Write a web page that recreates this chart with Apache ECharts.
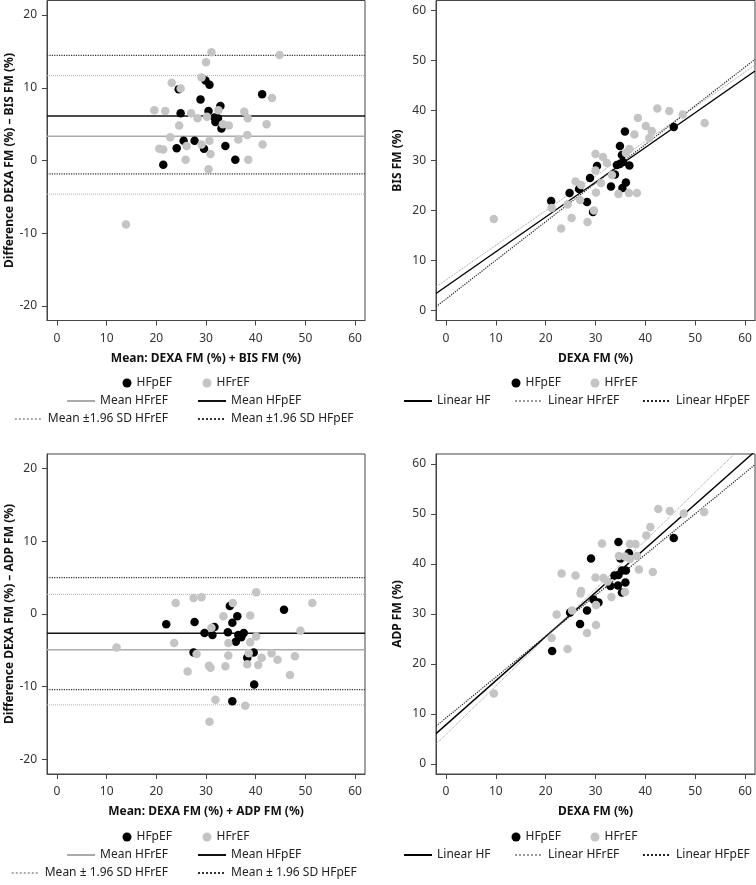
<!DOCTYPE html>
<html lang="en">
<head>
<meta charset="UTF-8">
<title>DEXA vs BIS / ADP fat mass</title>
<script src="https://cdn.jsdelivr.net/npm/echarts@6/dist/echarts.min.js"></script>
<style>html,body{margin:0;padding:0;background:#fff;}</style>
</head>
<body>
<div id="chart" style="width:756px;height:885px;"></div>
<script type="text/javascript">
// axis ticks
var xTicks = [0, 10, 20, 30, 40, 50, 60];
var diffTicks = [-20, -10, 0, 10, 20];
var fmTicks = [0, 10, 20, 30, 40, 50, 60];

// Bland-Altman DEXA vs BIS: [mean, difference]
var baBisPEF = [[29.9,11.0],[30.7,10.4],[24.5,9.8],[41.3,9.1],[28.9,8.4],[32.9,7.5],[24.9,6.5],[30.5,6.8],[31.7,5.9],[32.4,5.8],[31.9,5.3],[33.1,4.4],[25.5,2.7],[27.7,2.7],[24.1,1.7],[29.6,1.6],[33.9,2.0],[35.9,0.1],[21.4,-0.6]];
var baBisREF = [[31.1,14.9],[44.8,14.5],[30.0,13.5],[29.1,11.4],[23.1,10.7],[24.9,9.9],[43.3,8.6],[19.6,6.9],[21.8,6.8],[27.0,6.5],[32.5,6.9],[37.7,6.7],[28.3,5.8],[30.2,6.0],[38.4,5.8],[33.4,5.0],[34.6,4.8],[42.2,5.0],[24.6,4.8],[22.8,3.2],[38.3,3.5],[36.5,2.9],[26.1,2.0],[29.1,2.2],[30.7,2.7],[41.4,2.2],[20.6,1.6],[21.4,1.5],[30.9,0.9],[25.9,0.1],[38.5,0.1],[30.5,-1.2],[13.9,-8.8]];
var baBisMeanPEF = 6.13, baBisLoaPEF = [14.46, -1.83];
var baBisMeanREF = 3.34, baBisLoaREF = [11.67, -4.62];

// DEXA FM vs BIS FM
var scBisPEF = [[45.7,36.7],[35.9,35.8],[34.9,32.9],[35.3,31.1],[30.3,28.9],[34.3,29.1],[34.9,29.3],[36.8,29.0],[33.9,27.2],[28.9,26.5],[33.1,24.8],[36.1,25.6],[35.4,24.5],[24.8,23.5],[26.7,24.3],[21.1,21.9],[28.3,21.7],[29.5,19.7],[35.5,29.7]];
var scBisREF = [[42.4,40.4],[44.8,39.9],[47.5,39.2],[38.5,38.5],[40.1,36.9],[41.3,35.9],[37.8,35.2],[40.8,34.5],[51.9,37.5],[36.8,32.3],[36.1,31.5],[30.0,31.3],[31.5,30.7],[32.3,29.5],[30.0,28.0],[33.3,27.1],[31.1,25.5],[26.0,25.8],[27.1,25.1],[30.1,23.6],[34.6,23.3],[36.7,23.5],[38.3,23.5],[26.9,22.1],[24.4,21.2],[21.2,20.5],[29.7,20.0],[25.2,18.5],[28.4,17.7],[23.1,16.4],[9.6,18.3]];
// [slope, intercept]
var fitBisHF = [0.695, 4.8], fitBisREF = [0.693, 6.1], fitBisPEF = [0.773, 2.3];

// Bland-Altman DEXA vs ADP
var baAdpPEF = [[45.7,0.6],[34.8,1.1],[36.3,-0.3],[22.0,-1.4],[27.7,-1.1],[31.7,-1.8],[35.3,-1.2],[29.7,-2.6],[31.3,-2.9],[34.4,-2.5],[37.6,-2.6],[36.5,-2.9],[37.1,-3.2],[36.0,-3.8],[27.5,-5.3],[39.6,-5.3],[38.3,-6.0],[39.7,-9.7],[35.3,-12.0]];
var baAdpREF = [[40.1,3.0],[51.4,1.5],[23.9,1.5],[27.5,2.2],[29.1,2.3],[35.4,1.5],[33.5,-0.3],[38.9,-0.2],[31.1,-1.9],[49.0,-2.3],[40.1,-3.1],[23.6,-4.0],[34.5,-4.0],[38.9,-3.9],[12.0,-4.6],[28.1,-5.5],[34.5,-5.7],[38.6,-5.4],[43.2,-5.4],[47.9,-5.8],[41.2,-6.0],[44.4,-6.3],[26.3,-7.9],[30.6,-7.1],[30.9,-7.4],[33.9,-7.2],[38.3,-6.9],[40.5,-7.0],[46.9,-8.4],[31.9,-11.8],[37.9,-12.6],[30.7,-14.8]];
var baAdpMeanPEF = -2.65, baAdpLoaPEF = [5.0, -10.4];
var baAdpMeanREF = -4.9, baAdpLoaREF = [2.7, -12.5];

// DEXA FM vs ADP FM
var scAdpPEF = [[45.7,45.2],[34.6,44.4],[29.1,41.1],[36.7,42.2],[35.0,41.1],[36.1,38.7],[35.3,38.7],[33.8,37.7],[34.6,37.8],[33.0,35.6],[34.5,35.7],[36.0,36.3],[35.3,34.3],[29.6,32.9],[30.6,32.3],[24.9,30.3],[28.3,30.7],[26.9,28.0],[21.3,22.6]];
var scAdpREF = [[42.6,51.0],[44.9,50.6],[47.7,50.1],[51.8,50.4],[41.0,47.4],[40.2,45.7],[36.9,44.0],[38.0,44.0],[31.3,44.1],[34.7,41.6],[35.9,41.5],[36.9,41.0],[38.3,41.6],[23.2,38.1],[26.0,37.7],[30.0,37.3],[31.6,37.2],[32.4,36.5],[38.7,38.9],[41.5,38.4],[27.0,34.1],[27.1,34.6],[33.2,33.4],[35.9,34.4],[30.1,31.8],[22.2,29.9],[25.3,30.7],[28.3,26.2],[30.1,27.8],[21.2,25.2],[24.4,23.0],[9.6,14.1]];
var fitAdpHF = [0.882, 7.84], fitAdpREF = [0.97, 5.9], fitAdpPEF = [0.817, 9.2];

var X_MIN = -2, X_MAX = 62;
var FONT = '"Noto Sans", "Open Sans", sans-serif';

var chart = echarts.init(document.getElementById('chart'), null, {renderer: 'canvas'});

var ctx = document.createElement('canvas').getContext('2d');
ctx.font = '12px "Noto Sans"';
function textW(s) { return ctx.measureText(s).width; }

var BLACK = '#000', GREY = '#c4c4c4';
var styles = {
    meanPEF: {color: '#111', width: 1.5, type: 'solid'},
    meanREF: {color: '#aaa', width: 1.5, type: 'solid'},
    loaPEF: {color: '#333', width: 1.2, type: 'dotted'},
    loaREF: {color: '#aaa', width: 1, type: 'dotted'},
    fitHF: {color: '#000', width: 1.4, type: 'solid'},
    fitREF: {color: '#999', width: 1, type: 'dotted'},
    fitPEF: {color: '#222', width: 1.2, type: 'dotted'}
};

function xAxisFor(i, name) {
    return {
        gridIndex: i, type: 'value', min: X_MIN, max: X_MAX,
        name: name, nameLocation: 'middle', nameGap: 32,
        nameTextStyle: {fontFamily: FONT, fontSize: 12, fontWeight: 'bold', color: '#111'},
        axisLine: {show: true, onZero: false, lineStyle: {color: '#444'}},
        axisTick: {show: true, length: 5, customValues: xTicks, lineStyle: {color: '#444'}},
        axisLabel: {customValues: xTicks, margin: 12, fontFamily: FONT, fontSize: 12, color: '#333'},
        splitLine: {show: false}
    };
}
function yAxisFor(i, name, min, max, ticks, gap) {
    return {
        gridIndex: i, type: 'value', min: min, max: max,
        name: name, nameLocation: 'middle', nameGap: gap, nameRotate: 90,
        nameTextStyle: {fontFamily: FONT, fontSize: 12, fontWeight: 'bold', color: '#111'},
        axisLine: {show: true, onZero: false, lineStyle: {color: '#444'}},
        axisTick: {show: true, length: 5, customValues: ticks, lineStyle: {color: '#444'}},
        axisLabel: {customValues: ticks, margin: 10, fontFamily: FONT, fontSize: 12, color: '#333'},
        splitLine: {show: false}
    };
}
function dots(name, i, data, color, z) {
    return {name: name, type: 'scatter', xAxisIndex: i, yAxisIndex: i, data: data,
        symbol: 'circle', symbolSize: 8.5, itemStyle: {color: color, opacity: 1}, z: z, silent: true};
}
function hLine(name, i, v, st) {
    return {name: name, type: 'line', xAxisIndex: i, yAxisIndex: i,
        data: [[X_MIN, v], [X_MAX, v]], symbol: 'none', lineStyle: st,
        itemStyle: {color: st.color}, z: 2, silent: true};
}
function fitLine(name, i, c, st) {
    return {name: name, type: 'line', xAxisIndex: i, yAxisIndex: i,
        data: [[X_MIN, c[1] + c[0] * X_MIN], [X_MAX, c[1] + c[0] * X_MAX]],
        symbol: 'none', lineStyle: st, itemStyle: {color: st.color}, z: 2, clip: true, silent: true};
}

var legends = [];
function legendAt(name, left, cy, isDot) {
    var lg = {
        data: [name], left: left, top: cy - 8, padding: 0, itemGap: 0,
        itemWidth: isDot ? 9 : 28, itemHeight: isDot ? 9 : 10, selectedMode: false,
        textStyle: {fontFamily: FONT, fontSize: 12, color: '#222', lineHeight: 16}
    };
    // line legends: hide the marker that ECharts adds in the middle of the line
    if (!isDot) lg.itemStyle = {opacity: 0};
    legends.push(lg);
}
// right-align the text of a legend item to x = end
function legendEnd(name, end, cy) {
    legendAt(name, end - textW(name) - 5 - 28, cy, false);
}

var series = [];
var blocks = [
    {dy: 0, i: 0, pef: baBisPEF, ref: baBisREF, mP: baBisMeanPEF, lP: baBisLoaPEF, mR: baBisMeanREF, lR: baBisLoaREF, sd: ['Mean \u00b11.96 SD HFrEF', 'Mean \u00b11.96 SD HFpEF']},
    {dy: 454, i: 2, pef: baAdpPEF, ref: baAdpREF, mP: baAdpMeanPEF, lP: baAdpLoaPEF, mR: baAdpMeanREF, lR: baAdpLoaREF, sd: ['Mean \u00b1 1.96 SD HFrEF', 'Mean \u00b1 1.96 SD HFpEF']}
];
blocks.forEach(function (b) {
    series.push(hLine('Mean HFrEF', b.i, b.mR, styles.meanREF));
    series.push(hLine('Mean HFpEF', b.i, b.mP, styles.meanPEF));
    series.push(hLine(b.sd[0], b.i, b.lR[0], styles.loaREF));
    series.push(hLine(b.sd[0], b.i, b.lR[1], styles.loaREF));
    series.push(hLine(b.sd[1], b.i, b.lP[0], styles.loaPEF));
    series.push(hLine(b.sd[1], b.i, b.lP[1], styles.loaPEF));
    series.push(dots('HFpEF', b.i, b.pef, BLACK, 3));
    series.push(dots('HFrEF', b.i, b.ref, GREY, 4));
    legendAt('HFpEF', 122.5, 383 + b.dy, true);
    legendAt('HFrEF', 202.5, 383 + b.dy, true);
    legendEnd('Mean HFrEF', 167, 401 + b.dy);
    legendAt('Mean HFpEF', 197, 401 + b.dy, false);
    legendEnd(b.sd[0], 167, 419 + b.dy);
    legendAt(b.sd[1], 197, 419 + b.dy, false);
});
var fits = [
    {dy: 0, i: 1, pef: scBisPEF, ref: scBisREF, hf: fitBisHF, fr: fitBisREF, fp: fitBisPEF},
    {dy: 454, i: 3, pef: scAdpPEF, ref: scAdpREF, hf: fitAdpHF, fr: fitAdpREF, fp: fitAdpPEF}
];
fits.forEach(function (b) {
    series.push(fitLine('Linear HF', b.i, b.hf, styles.fitHF));
    series.push(fitLine('Linear HFrEF', b.i, b.fr, styles.fitREF));
    series.push(fitLine('Linear HFpEF', b.i, b.fp, styles.fitPEF));
    series.push(dots('HFpEF', b.i, b.pef, BLACK, 3));
    series.push(dots('HFrEF', b.i, b.ref, GREY, 4));
    legendAt('HFpEF', 511.5, 383 + b.dy, true);
    legendAt('HFrEF', 590.5, 383 + b.dy, true);
    legendAt('Linear HF', 403, 401 + b.dy, false);
    legendAt('Linear HFrEF', 514, 401 + b.dy, false);
    legendAt('Linear HFpEF', 642, 401 + b.dy, false);
});

var gridBase = {show: true, borderColor: '#444', borderWidth: 1, backgroundColor: '#fff', outerBoundsMode: 'none', containLabel: false};
var option = {
    animation: false,
    backgroundColor: '#fff',
    textStyle: {fontFamily: FONT},
    grid: [
        Object.assign({left: 47, top: 0.5, width: 318, height: 320}, gridBase),
        Object.assign({left: 436, top: 0.5, width: 319, height: 320}, gridBase),
        Object.assign({left: 47, top: 454, width: 318, height: 320}, gridBase),
        Object.assign({left: 436, top: 454, width: 319, height: 320}, gridBase)
    ],
    xAxis: [
        xAxisFor(0, 'Mean: DEXA FM (%) + BIS FM (%)'),
        xAxisFor(1, 'DEXA FM (%)'),
        xAxisFor(2, 'Mean: DEXA FM (%) + ADP FM (%)'),
        xAxisFor(3, 'DEXA FM (%)')
    ],
    yAxis: [
        yAxisFor(0, 'Difference DEXA FM (%) \u2013 BIS FM (%)', -22, 22, diffTicks, 30),
        yAxisFor(1, 'BIS FM (%)', -2, 62, fmTicks, 32),
        yAxisFor(2, 'Difference DEXA FM (%) \u2013 ADP FM (%)', -22, 22, diffTicks, 30),
        yAxisFor(3, 'ADP FM (%)', -2, 62, fmTicks, 32)
    ],
    legend: legends,
    series: series
};
chart.setOption(option);
</script>
</body>
</html>
